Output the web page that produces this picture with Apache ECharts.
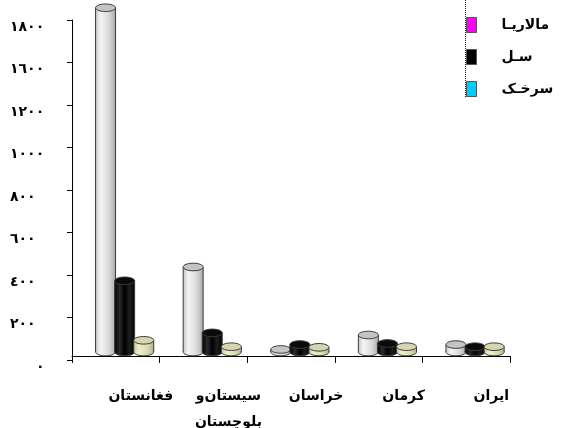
<!DOCTYPE html>
<html>
<head>
<meta charset="utf-8">
<script src="https://cdn.jsdelivr.net/npm/echarts@6/dist/echarts.min.js"></script>
<style>html,body{margin:0;padding:0;background:#fff;}#c{width:562px;height:428px;}</style>
</head>
<body>
<div id="c"></div>
<script>
var categories = ['فغانستان', 'سیستان\u200cو\nبلوچستان', 'خراسان', 'کرمان', 'ایران'];
var seriesNames = ['مالاریـا', 'سـل', 'سرخـک'];
var malaria = [1620, 400, 12, 80, 35];
var tb = [335, 90, 35, 40, 25];
var measles = [55, 25, 22, 25, 25];
var yTickLabels = ['٠', '٢٠٠', '٤٠٠', '٦٠٠', '٨٠٠', '١٠٠٠', '١٢٠٠', '١٦٠٠', '١٨٠٠'];

var legendColors = ['#ff00ff', '#000000', '#00ccff'];
var cyl = [
  {body: ['#c8c8c8', '#f4f4f4', '#e6e6e6', '#d0d0d0', '#a8a8a8'], top: '#c4c4c4'},
  {body: ['#000000', '#2a2a2a', '#000000', '#1e1e1e', '#000000'], top: '#0a0a0a'},
  {body: ['#c8c8a0', '#eeeecc', '#e4e4c0', '#d4d4ac', '#b0b090'], top: '#d6d6ae'}
];
var FONT = 'DejaVu Sans';

function makeRender(si) {
  return function (params, api) {
    var cat = api.value(0), v = api.value(1);
    var base = api.coord([cat, 0]);
    var top = api.coord([cat, v]);
    var bw = api.size([1, 0])[0];
    var w = bw * 0.228;
    var cx = base[0] + bw * (-0.117 + si * 0.218);
    var dy = -8;
    var ry = w * 0.19;
    var yb = base[1] + dy, yt = top[1] + dy;
    var c = cyl[si];
    var grad = new echarts.graphic.LinearGradient(0, 0, 1, 0, [
      {offset: 0, color: c.body[0]}, {offset: 0.25, color: c.body[1]},
      {offset: 0.5, color: c.body[2]}, {offset: 0.75, color: c.body[3]},
      {offset: 1, color: c.body[4]}
    ]);
    var stroke = '#3a3a3a';
    return {
      type: 'group',
      children: [
        {type: 'ellipse', shape: {cx: cx, cy: yb, rx: w / 2, ry: ry}, style: {fill: grad, stroke: stroke, lineWidth: 1}},
        {type: 'rect', shape: {x: cx - w / 2, y: yt, width: w, height: yb - yt}, style: {fill: grad}},
        {type: 'line', shape: {x1: cx - w / 2, y1: yt, x2: cx - w / 2, y2: yb}, style: {stroke: stroke, lineWidth: 1}},
        {type: 'line', shape: {x1: cx + w / 2, y1: yt, x2: cx + w / 2, y2: yb}, style: {stroke: stroke, lineWidth: 1}},
        {type: 'ellipse', shape: {cx: cx, cy: yt, rx: w / 2, ry: ry}, style: {fill: c.top, stroke: stroke, lineWidth: 1}}
      ]
    };
  };
}

var dataSets = [malaria, tb, measles];
var series = dataSets.map(function (arr, si) {
  return {
    type: 'custom',
    name: seriesNames[si],
    renderItem: makeRender(si),
    itemStyle: {color: legendColors[si]},
    encode: {x: 0, y: 1},
    data: arr.map(function (v, i) { return [i, v]; }),
    clip: false
  };
});

var chart = echarts.init(document.getElementById('c'), null, {renderer: 'canvas'});
chart.setOption({
  animation: false,
  backgroundColor: '#ffffff',
  grid: {left: 72, right: 52, top: 20, bottom: 68, containLabel: false, outerBoundsMode: 'none'},
  legend: {
    orient: 'vertical',
    left: 461,
    top: 12,
    itemWidth: 10,
    itemHeight: 15,
    itemGap: 16,
    selectedMode: false,
    icon: 'rect',
    textStyle: {fontFamily: FONT, fontWeight: 'bold', fontSize: 14, color: '#000', lineHeight: 15, padding: [0, 0, 0, 20]},
    data: seriesNames.map(function (n, i) {
      return {name: n, itemStyle: {color: legendColors[i], borderColor: '#555', borderWidth: 1}};
    })
  },
  graphic: [{
    type: 'line', z: 0,
    shape: {x1: 465.5, y1: 0, x2: 465.5, y2: 97},
    style: {stroke: '#222', lineWidth: 1, lineDash: [1, 1]}
  }],
  xAxis: {
    type: 'category',
    data: categories,
    offset: -4,
    axisLine: {lineStyle: {color: '#000', width: 1}},
    axisTick: {show: true, length: 7, alignWithLabel: false, lineStyle: {color: '#000'}},
    axisLabel: {
      interval: 0, margin: 27, fontFamily: FONT, fontWeight: 'bold', fontSize: 14,
      color: '#000', lineHeight: 26, padding: [0, 0, 0, 50]
    }
  },
  yAxis: {
    type: 'value',
    min: 0, max: 1600, interval: 200,
    axisLine: {show: true, lineStyle: {color: '#000', width: 1}},
    axisTick: {show: true, length: 5, lineStyle: {color: '#000'}},
    splitLine: {show: false},
    axisLabel: {
      margin: 62, align: 'left', fontFamily: FONT, fontWeight: 'bold', fontSize: 14, color: '#000',
      padding: [14, 0, 0, 0],
      formatter: function (val) {
        var s = yTickLabels[Math.round(val / 200)];
        return val === 0 ? '{z|' + s + '}' : s;
      },
      rich: {z: {padding: [0, 0, 0, 26], fontFamily: FONT, fontWeight: 'bold', fontSize: 14, color: '#000'}}
    }
  },
  series: series
});
</script>
</body>
</html>
